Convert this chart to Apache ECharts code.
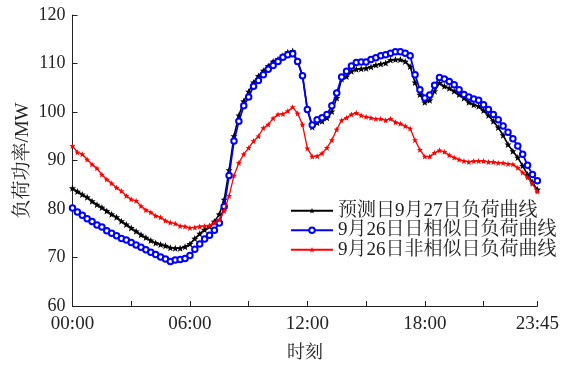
<!DOCTYPE html>
<html>
<head>
<meta charset="utf-8">
<script src="https://cdn.jsdelivr.net/npm/echarts@6/dist/echarts.min.js"></script>
<style>
  html, body { margin: 0; padding: 0; background: #fff; }
  #chart { width: 562px; height: 367px; }
</style>
</head>
<body>
<div id="chart"></div>
<script>
// 96 load samples per day, one every 15 minutes (00:00 ... 23:45)
const times = [];
for (let h = 0; h < 24; h++) {
  for (let m = 0; m < 60; m += 15) {
    times.push(String(h).padStart(2, '0') + ':' + String(m).padStart(2, '0'));
  }
}
const tickLabels = ['00:00', '06:00', '12:00', '18:00', '23:45'];
const yTicks = [60, 70, 80, 90, 100, 110, 120];

const seriesNames = ['预测日9月27日负荷曲线', '9月26日日相似日负荷曲线', '9月26日非相似日负荷曲线'];

// Forecast day, 27 Sep (MW)
const forecastLoad = [
  84.3, 83.6, 83.0, 82.4, 81.6, 80.9, 80.3, 79.6, 78.9, 78.3, 77.5, 76.8,
  76.1, 75.4, 74.7, 74.1, 73.5, 73.0, 72.7, 72.4, 72.0, 71.9, 71.9, 72.2,
  72.8, 73.9, 74.9, 75.7, 76.4, 77.4, 78.9, 81.9, 88.0, 95.0, 99.3, 102.2,
  104.2, 106.1, 107.4, 108.5, 109.5, 110.4, 110.9, 111.6, 112.3, 112.6, 110.4, 107.5,
  100.5, 96.9, 97.8, 98.1, 98.8, 100.1, 102.9, 106.8, 107.3, 108.4, 108.8, 108.9,
  109.0, 109.3, 109.7, 109.9, 110.1, 110.7, 110.8, 110.8, 110.4, 109.4, 106.1, 103.6,
  102.0, 102.4, 104.3, 106.0, 105.3, 104.9, 104.3, 103.6, 102.9, 102.0, 101.5, 101.2,
  100.3, 99.3, 98.1, 96.8, 95.2, 93.3, 91.9, 90.6, 88.9, 87.1, 85.5, 84.0
];

// Similar day, 26 Sep (MW)
const similarLoad = [
  80.2, 79.4, 78.7, 78.0, 77.4, 76.7, 76.3, 75.5, 75.0, 74.5, 73.9, 73.6,
  73.1, 72.6, 72.1, 71.6, 71.1, 70.6, 70.1, 69.7, 69.2, 69.5, 69.6, 69.8,
  70.4, 71.7, 72.8, 73.8, 74.6, 75.6, 77.1, 80.5, 86.9, 94.0, 98.1, 101.3,
  103.1, 105.3, 106.5, 107.7, 108.8, 109.6, 110.4, 111.3, 111.8, 112.0, 110.4, 107.5,
  100.5, 97.3, 98.4, 98.8, 99.5, 101.3, 103.9, 107.2, 108.4, 109.5, 110.2, 110.3,
  110.3, 110.8, 111.2, 111.6, 111.8, 112.1, 112.4, 112.4, 112.1, 111.6, 107.7, 104.6,
  102.9, 103.5, 105.5, 107.1, 106.8, 106.3, 105.6, 104.6, 103.6, 103.1, 102.7, 102.4,
  101.5, 100.5, 99.5, 98.4, 97.1, 95.8, 94.5, 93.0, 91.3, 89.0, 87.1, 85.8
];

// Non-similar day, 26 Sep (MW)
const nonSimilarLoad = [
  93.0, 91.7, 91.3, 90.2, 89.2, 88.4, 87.1, 86.1, 85.3, 84.4, 83.7, 82.7,
  82.0, 81.7, 80.6, 79.8, 79.3, 78.6, 78.3, 77.6, 77.2, 77.0, 76.5, 76.4,
  76.1, 76.2, 76.4, 76.5, 76.6, 77.1, 77.8, 79.6, 82.7, 86.9, 89.5, 91.3,
  92.6, 94.0, 95.0, 96.7, 97.4, 98.7, 99.5, 99.6, 100.2, 101.0, 99.7, 97.4,
  92.5, 90.8, 90.9, 91.5, 92.6, 94.2, 96.4, 98.3, 98.8, 99.5, 99.8, 99.3,
  99.0, 98.8, 98.6, 98.6, 98.3, 98.6, 97.9, 97.6, 97.1, 96.6, 94.2, 92.2,
  90.8, 90.8, 91.6, 92.1, 91.8, 91.1, 90.6, 90.2, 89.9, 89.7, 89.9, 89.9,
  89.9, 89.7, 89.7, 89.5, 89.5, 89.3, 89.2, 88.5, 87.5, 86.5, 85.2, 83.6
];

const FONT = "'Liberation Serif', 'Times New Roman', 'Noto Serif CJK SC', 'Noto Sans CJK SC', serif";
const TEXT = '#222';
const STAR = 'path://M0,-5L1.3,-1.7L4.8,-1.6L2.1,0.7L3.1,4.2L0,2.2L-3.1,4.2L-2.1,0.7L-4.8,-1.6L-1.3,-1.7Z';

const chart = echarts.init(document.getElementById('chart'), null, { renderer: 'canvas' });

chart.setOption({
  animation: false,
  backgroundColor: '#fff',
  grid: { left: 72.5, right: 22, top: 15, bottom: 60, containLabel: false },
  legend: {
    orient: 'vertical',
    left: 290,
    top: 201,
    padding: 0,
    itemGap: 0,
    itemWidth: 42,
    itemHeight: 7,
    textStyle: { fontFamily: FONT, fontSize: 19, color: TEXT, lineHeight: 19.5 },
    data: seriesNames
  },
  xAxis: {
    type: 'category',
    data: times,
    boundaryGap: false,
    name: '时刻',
    nameLocation: 'middle',
    nameGap: 38,
    nameTextStyle: { fontFamily: FONT, fontSize: 18, color: TEXT },
    axisLine: { lineStyle: { color: '#222', width: 1 } },
    axisTick: {
      inside: true,
      length: 5,
      lineStyle: { color: '#222' },
      interval: (i) => i % 12 === 0 || i === times.length - 1
    },
    axisLabel: {
      interval: (i, v) => tickLabels.includes(v),
      fontFamily: FONT,
      fontSize: 19,
      color: TEXT,
      margin: 9
    },
    splitLine: { show: false }
  },
  yAxis: {
    type: 'value',
    min: yTicks[0],
    max: yTicks[yTicks.length - 1],
    interval: yTicks[1] - yTicks[0],
    name: '负荷功率/MW',
    nameLocation: 'middle',
    nameGap: 40,
    nameMoveOverlap: false,
    nameTextStyle: { fontFamily: FONT, fontSize: 19, color: TEXT },
    axisLine: { show: true, lineStyle: { color: '#222', width: 1 } },
    axisTick: { show: true, inside: true, length: 5, lineStyle: { color: '#222' } },
    axisLabel: { fontFamily: FONT, fontSize: 18, color: TEXT, margin: 7 },
    splitLine: { show: false }
  },
  series: [
    {
      name: seriesNames[0],
      type: 'line',
      data: forecastLoad,
      symbol: STAR,
      symbolSize: 7,
      showAllSymbol: true,
      lineStyle: { color: '#000', width: 1.6 },
      itemStyle: { color: '#000' },
      z: 2
    },
    {
      name: seriesNames[1],
      type: 'line',
      data: similarLoad,
      symbol: 'emptyCircle',
      symbolSize: 5.5,
      showAllSymbol: true,
      lineStyle: { color: '#0000ff', width: 1.8 },
      itemStyle: { color: '#0000ff', borderColor: '#0000ff', borderWidth: 1 },
      z: 3
    },
    {
      name: seriesNames[2],
      type: 'line',
      data: nonSimilarLoad,
      symbol: STAR,
      symbolSize: 6,
      showAllSymbol: true,
      lineStyle: { color: '#ff0000', width: 1.3 },
      itemStyle: { color: '#ff0000' },
      z: 4
    }
  ]
});
</script>
</body>
</html>
